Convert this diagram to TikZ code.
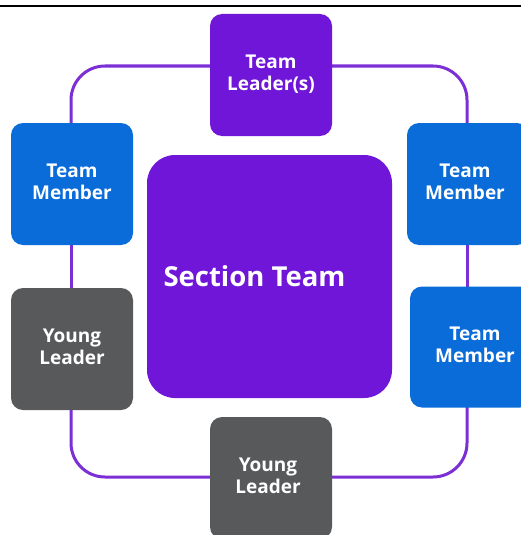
\documentclass[tikz,border=0pt]{standalone}
\usepackage{fontspec}
\setmainfont{Open Sans}
\usetikzlibrary{backgrounds}
\definecolor{purp}{HTML}{6F16D9}
\definecolor{loopc}{HTML}{7B2FD4}
\definecolor{blu}{HTML}{0A6CD8}
\definecolor{gry}{HTML}{58595B}
\newcommand\twolines[3]{\raisebox{#1}{\begin{tabular}{@{}c@{}}#2\\#3\end{tabular}}}
\tikzset{
  box/.style={draw=none, rounded corners=12pt, minimum width=122pt, minimum height=122pt,
    text=white, align=center, font=\bfseries\fontsize{19}{22.5}\selectfont, inner sep=0pt},
  purplebox/.style={box, fill=purp},
  bluebox/.style={box, fill=blu},
  greybox/.style={box, fill=gry},
  loopline/.style={draw=loopc, line width=3pt, rounded corners=34pt},
}
\begin{document}
\begin{tikzpicture}[x=1pt,y=-1pt]
\useasboundingbox (0,0) rectangle (521,535);
\clip (0,0) rectangle (521,535);
% top rule
\coordinate (ruleL) at (0,6);
\coordinate (ruleR) at (521,6);
\draw[line width=1.5pt, black] (ruleL) -- (ruleR);
% nodes
\node[purplebox] (tl) at (271,75) {\twolines{7pt}{Team}{Leader(s)}};
\node[bluebox] (tm1) at (72,184) {\twolines{6pt}{Team}{Member}};
\node[greybox] (yl1) at (72,349) {\twolines{7pt}{Young}{Leader}};
\node[bluebox] (tm3) at (468,184) {\hspace*{-6pt}\twolines{4pt}{Team}{Member}};
\node[bluebox, minimum height=121pt] (tm4) at (471,347) {\hspace*{8pt}\twolines{4pt}{Team}{Member}};
\node[greybox] (yl2) at (271,478) {\hspace*{-6pt}\twolines{-7pt}{Young}{Leader}};
\node[purplebox, minimum width=245pt, minimum height=243pt, rounded corners=28pt,
      font=\bfseries\fontsize{27.5}{31}\selectfont] (st) at (269.5,276.5) {\hspace*{-30pt}Section Team};
% connectors (behind boxes)
\begin{scope}[on background layer]
\fill[white] (0,0) rectangle (521,535);
\draw[loopline] ([yshift=9pt]tl.center) -| ([xshift=-1pt]tm1.center);
\draw[loopline] ([yshift=9pt]tl.center) -| ([xshift=-1pt]tm3.center);
\draw[loopline] ([xshift=-1pt]tm1.center) -- ([xshift=-1pt]yl1.center);
\draw[loopline] ([xshift=-1pt]tm3.center) -- ([xshift=-4pt]tm4.center);
\draw[loopline] ([xshift=-1pt]yl1.center) |- ([yshift=1pt]yl2.center);
\draw[loopline] ([yshift=1pt]yl2.center) -| ([xshift=-4pt]tm4.center);
\end{scope}
\end{tikzpicture}
\end{document}
